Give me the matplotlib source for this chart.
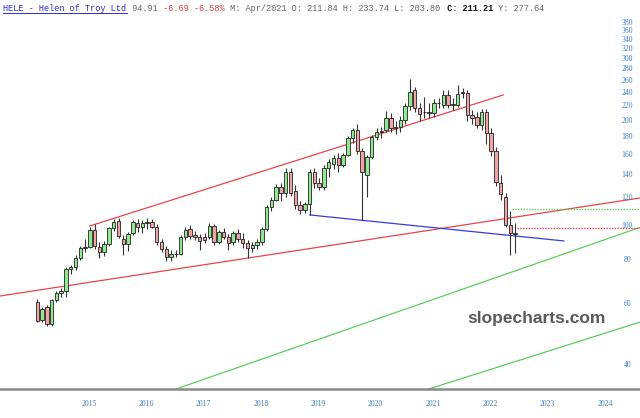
import numpy as np
import matplotlib
matplotlib.use('Agg')
from matplotlib import pyplot as plt
from matplotlib.ticker import NullLocator

# monthly candles, Jul 2014 .. Nov 2022
months = ['2014-%02d' % m for m in range(7, 13)] + \
         ['%d-%02d' % (y, m) for y in range(2015, 2022) for m in range(1, 13)] + \
         ['2022-%02d' % m for m in range(1, 12)]

opens = [60.5, 54.0, 58.6, 52.6, 61.4, 64.5, 65.3, 75.2, 76.5, 81.0,
         86.7, 87.3, 97.4, 87.3, 84.0, 88.8, 98.5, 103.3, 91.8, 88.8,
         95.3, 102.0, 99.5, 102.0, 102.6, 99.5, 90.2, 85.8, 81.7, 83.0,
         83.3, 93.0, 97.9, 94.0, 93.2, 93.0, 93.2, 100.0, 90.2, 96.3,
         93.2, 90.2, 95.7, 92.0, 89.2, 86.4, 88.5, 90.2, 97.9, 113.5,
         118.7, 129.5, 124.0, 142.9, 125.5, 114.8, 111.1, 115.3, 142.4, 132.4,
         129.5, 146.8, 150.0, 156.8, 149.3, 159.5, 178.6, 188.0, 163.6, 140.0,
         157.7, 180.0, 186.0, 188.0, 204.0, 190.0, 192.0, 200.7, 220.0, 245.0,
         218.0, 211.84, 211.2, 210.0, 225.0, 221.5, 236.9, 222.0, 221.5, 240.5,
         240.5, 207.0, 205.0, 194.5, 212.0, 184.8, 163.6, 132.4, 121.3, 100.7,
         95.5]
highs = [62.0, 58.8, 59.3, 62.0, 65.3, 66.3, 76.5, 77.5, 82.5, 87.5,
         91.8, 99.0, 101.5, 90.0, 90.5, 99.5, 104.5, 105.5, 94.0, 96.0,
         104.0, 104.5, 104.0, 105.5, 105.0, 101.0, 92.0, 87.5, 85.5, 85.5,
         94.0, 99.5, 100.5, 96.5, 95.0, 95.5, 102.0, 101.5, 97.5, 98.5,
         95.0, 97.0, 98.0, 95.5, 91.0, 90.0, 92.0, 99.5, 115.0, 121.0,
         132.0, 133.0, 146.0, 146.0, 131.0, 118.0, 117.0, 145.5, 146.0, 137.0,
         149.0, 155.0, 160.0, 162.0, 162.0, 181.0, 190.0, 195.0, 167.0, 160.0,
         182.0, 190.0, 192.0, 213.0, 210.0, 199.0, 206.0, 225.0, 262.6, 250.0,
         224.0, 233.74, 225.0, 230.0, 232.0, 245.0, 245.0, 232.0, 253.0, 248.0,
         245.0, 214.0, 212.0, 216.0, 216.0, 190.0, 168.0, 140.0, 124.0, 110.0,
         102.0]
lows = [53.0, 53.3, 51.8, 51.9, 60.5, 62.8, 62.5, 73.0, 74.7, 80.0,
        84.5, 86.5, 86.0, 81.0, 82.0, 87.5, 97.0, 92.5, 82.6, 85.0,
        94.0, 96.0, 95.5, 98.0, 98.5, 88.5, 84.5, 79.6, 79.5, 81.5,
        82.5, 91.0, 91.5, 91.0, 85.5, 89.5, 92.0, 88.5, 89.0, 91.5,
        85.5, 88.5, 90.0, 86.5, 80.9, 84.5, 86.0, 88.5, 96.5, 110.0,
        117.5, 118.0, 121.0, 122.0, 112.0, 108.5, 109.0, 107.5, 128.0, 126.5,
        127.0, 138.0, 145.0, 143.0, 147.0, 158.0, 173.0, 161.0, 104.0, 121.3,
        155.0, 176.0, 178.0, 185.0, 186.0, 183.0, 185.0, 196.0, 214.0, 212.0,
        200.0, 203.80, 203.0, 205.0, 218.0, 218.0, 218.0, 215.0, 219.0, 232.0,
        200.0, 195.0, 190.0, 188.0, 172.0, 158.0, 130.0, 119.0, 99.5, 82.6,
        83.5]
closes = [53.6, 57.8, 52.6, 61.4, 64.5, 65.3, 75.2, 76.5, 81.0, 86.7,
          87.3, 97.4, 87.5, 84.5, 88.8, 98.7, 102.9, 93.8, 88.8, 94.9,
          102.9, 99.5, 102.0, 102.6, 99.5, 90.2, 85.8, 81.7, 83.0, 83.3,
          93.2, 97.4, 93.6, 93.0, 90.8, 91.0, 100.0, 90.2, 96.3, 93.0,
          89.2, 95.7, 91.6, 89.2, 86.4, 88.5, 90.0, 97.9, 113.5, 118.7,
          129.5, 124.0, 142.4, 124.5, 114.8, 111.1, 115.3, 142.9, 132.4, 129.5,
          146.8, 152.6, 156.1, 148.9, 159.5, 178.0, 188.0, 163.6, 142.9, 157.7,
          180.0, 186.0, 187.0, 204.0, 190.0, 192.0, 200.7, 220.0, 242.0, 218.0,
          209.0, 211.21, 210.0, 225.0, 224.0, 236.9, 221.5, 222.5, 238.2, 240.5,
          207.6, 204.0, 194.5, 212.0, 184.8, 163.6, 133.9, 123.4, 100.7, 95.5,
          94.91]

price_ticks = [40, 60, 80, 100] + list(range(120, 400, 20))
years = list(range(2015, 2025))

# trend lines: (candle index, price) anchors
upper_channel = ([11.0, 97.5], [100.0, 236.8])
lower_channel = ([-8.0, 127.0], [63.0, 120.7])
support_line = ([57.05, 110.2], [107.5, 90.6])
green_upper = ([92.6, 126.1], [68.6, 99.0])
green_lower = ([82.2, 126.1], [34.3, 53.1])
green_level = (99.3, 111.6)
red_level = (100.3, 98.5)

UP = '#90e890'
DOWN = '#f0a4a4'

fig = plt.figure(figsize=(6.4, 4.18), dpi=100)
ax = fig.add_axes([0, 29 / 418, 1, 371 / 418])
ax.set_yscale('log')
x0, x1 = -7.81, 126.14
ax.set_xlim(x0, x1)
ax.set_ylim(34.2, 392.9)

x = np.arange(len(opens))
o = np.array(opens)
c = np.array(closes)
ax.vlines(x, lows, highs, color='#333333', lw=0.8, zorder=3)
bottoms = np.minimum(o, c)
heights = np.maximum(np.abs(c - o), 0.15)
colors = [UP if cc >= oo else DOWN for oo, cc in zip(o, c)]
ax.bar(x, heights, bottom=bottoms, width=0.72, color=colors,
       edgecolor='#222222', linewidth=0.6, zorder=4)

# trend lines
ax.plot(*upper_channel, color='#e8454a', lw=0.9, zorder=2)
ax.axline((lower_channel[0][0], lower_channel[1][0]), (lower_channel[0][1], lower_channel[1][1]),
          color='#e8454a', lw=0.9, zorder=2)
ax.plot(*support_line, color='#3a3ad8', lw=0.9, zorder=2)
for gl in (green_upper, green_lower):
    ax.axline((gl[0][0], gl[1][0]), (gl[0][1], gl[1][1]), color='#5ccc5c', lw=0.9, zorder=2)
ax.hlines(green_level[1], green_level[0], x1, colors='#5ccc5c', linestyles=(0, (1, 1)), lw=1.0)
ax.hlines(red_level[1], red_level[0], x1, colors='#e8454a', linestyles=(0, (1, 1)), lw=1.0)

# axes styling
for s in ['top', 'left', 'right']:
    ax.spines[s].set_visible(False)
ax.spines['bottom'].set_color('#888888')
ax.spines['bottom'].set_linewidth(1.8)
ax.yaxis.set_major_locator(NullLocator())
ax.yaxis.set_minor_locator(NullLocator())
year_pos = [(y - 2014) * 12 - 6 + 4.8 for y in years]
ax.set_xticks(year_pos)
ax.set_xticklabels([str(y) for y in years], fontfamily='Liberation Serif', fontsize=5.6, color='#3f7fc0')
ax.tick_params(axis='x', length=0, pad=8)
for p in price_ticks:
    ax.text(0.98, p, str(p), transform=ax.get_yaxis_transform(), ha='center', va='center',
            fontfamily='Liberation Serif', fontsize=5.6, color='#3f7fc0')

fig.text(537 / 640, 1 - 318 / 418, 'slopecharts.com', ha='center', va='center',
         fontfamily='Liberation Sans', fontweight='bold', fontsize=12.5, color='#5a5a5a')

# header line (monospace pieces)
pieces = [('HELE - Helen of Troy Ltd', '#2b2bd0', 'normal'), (' 94.91', '#666666', 'normal'),
          (' -6.69 -6.58%', '#e03c3c', 'normal'),
          (' M: Apr/2021 O: 211.84 H: 233.74 L: 203.80', '#666666', 'normal'),
          (' C: 211.21', '#111111', 'bold'), (' Y: 277.64', '#666666', 'normal')]
cw = 5.16
pos = 3.0
for txt, col, wt in pieces:
    fig.text(pos / 640, 1 - 8.5 / 418, txt, ha='left', va='center', fontfamily='Liberation Mono',
             fontsize=6.2, color=col, fontweight=wt)
    pos += cw * len(txt)
fig.add_artist(plt.Line2D([3 / 640, (3 + 24 * cw) / 640], [1 - 13 / 418, 1 - 13 / 418],
                          color='#2b2bd0', lw=0.7))

fig.savefig('out.png', dpi=100)
